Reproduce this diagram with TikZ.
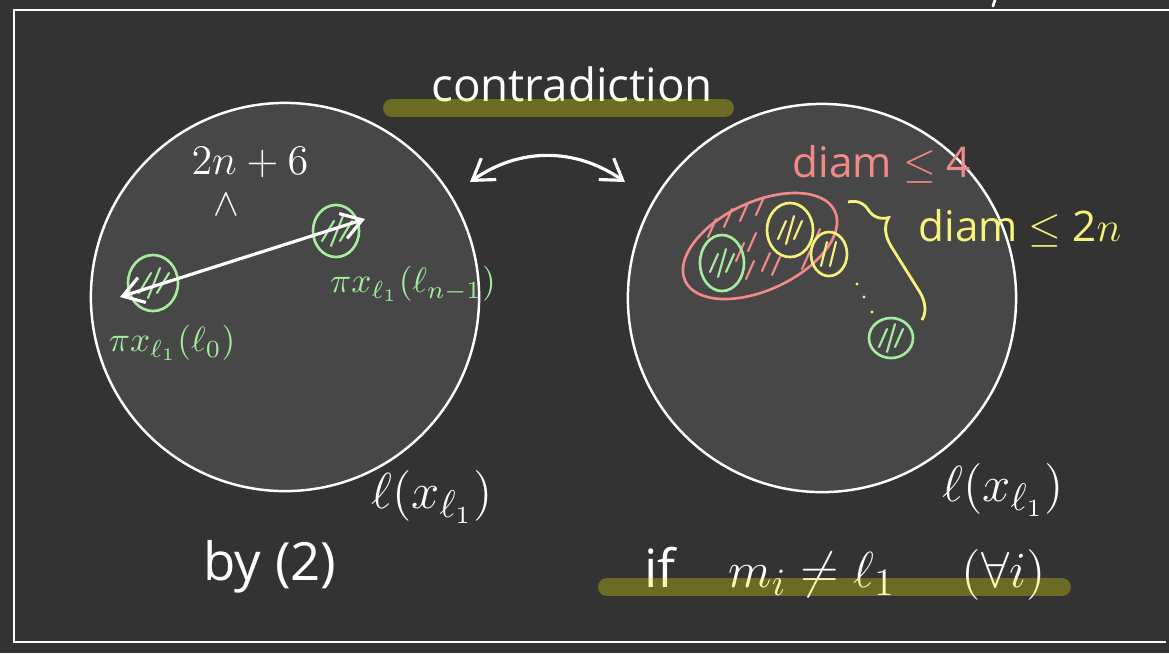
\documentclass[tikz,border=0pt]{standalone}
\usepackage{amsmath,amssymb}
\usepackage{fontspec}
\setmainfont{Open Sans}
\usepackage{xcolor}
\usepackage{tikz}
\usetikzlibrary{arrows.meta, positioning, calc, shapes.geometric, decorations.pathreplacing}

\definecolor{board}{HTML}{333333}
\definecolor{disc}{HTML}{474747}
\definecolor{chalkgreen}{HTML}{A6EBA0}
\definecolor{chalkpink}{HTML}{F28A8A}
\definecolor{chalkyellow}{HTML}{F7F27A}
\definecolor{marker}{RGB}{238,238,4}

\begin{document}
\begin{tikzpicture}[
    x=0.01cm, y=-0.01cm,
    bigdisc/.style={circle, draw=white, fill=disc, line width=0.7pt, minimum size=3.88cm, inner sep=0pt},
    blob/.style={ellipse, draw=#1, line width=0.75pt, inner sep=0pt},
    hatch/.style={draw=#1, line width=0.6pt, line cap=round},
    chalk/.style={text=white, inner sep=1pt},
    arr/.style={{Straight Barb[length=2mm, width=2.6mm]}-{Straight Barb[length=2mm, width=2.6mm]}, line width=0.9pt, white, line cap=round},
    hilite/.style={marker, opacity=0.3, line width=5.1pt, line cap=round}
]

% Board and frame
\fill[board] (0,0) rectangle (1169,653);
\useasboundingbox (0,0) rectangle (1169,653);
\draw[white, line width=0.7pt] (1169,10) -- (14,10) -- (14,642) -- (1166,642);
\draw[white, line width=0.8pt, line cap=round] (995,0) -- (993,6);

% Two discs
\node[bigdisc] (lc) at (285,297) {};
\node[bigdisc] (rc) at (822,298) {};

% Title
\node[chalk, font=\fontsize{13}{15}\selectfont] (contra) at (572,84) {contradiction};

\coordinate (swapL) at (470,182);
\coordinate (swapR) at (625,182);
\draw[arr] (swapL) to[bend left=35] (swapR);

% Left disc: the two end balls
\node[blob=chalkgreen, minimum width=0.5cm, minimum height=0.56cm] (g1) at (153,283) {};
\node[blob=chalkgreen, minimum width=0.46cm, minimum height=0.52cm] (g2) at (336,231) {};
\foreach \n in {g1,g2}
  \foreach \d/\h in {-8/10,1/15,10/10}
    \draw[hatch=chalkgreen] ($(\n)+(\d-6,\h)$) -- ($(\n)+(\d+6,-\h)$);

\coordinate (tipL) at ($(g1)+(-33,14)$);
\coordinate (tipR) at ($(g2)+(29,-12)$);
\draw[arr] (tipL) -- (tipR);

\node[chalk, font=\fontsize{12}{14}\selectfont] (len) at (250,162) {$2n+6$};
\node[chalk, font=\fontsize{11}{13}\selectfont] (ge) at (226,205) {$\wedge$};

\node[chalk, text=chalkgreen, font=\fontsize{10}{12}\selectfont] (lab0) at (172,343) {$\pi x_{\ell_1}(\ell_0)$};
\node[chalk, text=chalkgreen, font=\fontsize{10}{12}\selectfont] (labn) at (413,284) {$\pi x_{\ell_1}(\ell_{n-1})$};

% Right disc: clusters
\node[blob=chalkpink, rotate=25, minimum width=1.65cm, minimum height=0.88cm] (pk) at (760,246) {};
\foreach \p in {(712,228),(728,218),(744,212),(760,206),(752,242),(766,262),(750,270),(740,252),(806,260),(816,238),(776,266)}
  \draw[hatch=chalkpink] \p ++(-4,9) -- ++(8,-18);

\node[blob=chalkgreen, minimum width=0.44cm, minimum height=0.56cm] (g3) at (722,263) {};
\node[blob=chalkyellow, minimum width=0.46cm, minimum height=0.54cm] (y1) at (790,230) {};
\node[blob=chalkyellow, minimum width=0.36cm, minimum height=0.44cm] (y2) at (829,254) {};
\node[blob=chalkgreen, minimum width=0.44cm, minimum height=0.4cm] (g4) at (891,338) {};
\foreach \n/\c in {g3/chalkgreen, y1/chalkyellow, g4/chalkgreen}
  \foreach \d/\h in {-8/9,0/14,8/9}
    \draw[hatch=\c] ($(\n)+(\d-4,\h)$) -- ($(\n)+(\d+4,-\h)$);
\foreach \d in {-5,4}
  \draw[hatch=chalkyellow] ($(y2)+(\d-3,12)$) -- ($(y2)+(\d+3,-12)$);

\foreach \p in {(857,284),(864,297),(872,312)}
  \fill[chalkyellow] \p circle (1.6);

\coordinate (brtop) at (848,202);
\coordinate (brbot) at (922,320);
\draw[chalkyellow, line width=0.8pt, decorate, decoration={brace, amplitude=2.6mm, aspect=0.25}] (brtop) -- (brbot);

\node[chalk, text=chalkpink, font=\fontsize{12}{14}\selectfont] (d4) at (882,164) {diam $\leq$ 4};
\node[chalk, text=chalkyellow, font=\fontsize{12}{14}\selectfont] (d2n) at (1020,228) {diam $\leq$ 2$n$};

% Disc names
\node[chalk, font=\fontsize{15}{17}\selectfont] (ellL) at (432,497) {$\ell(x_{\ell_1})$};
\node[chalk, font=\fontsize{15}{17}\selectfont] (ellR) at (1003,490) {$\ell(x_{\ell_1})$};

% Bottom remarks
\node[chalk, font=\fontsize{15}{17}\selectfont] (by) at (270,567) {by (2)};
\node[chalk, font=\fontsize{15}{17}\selectfont] (cond) at (845,574) {if\quad $m_i \neq \ell_1$\quad\ $(\forall i)$};

% Highlighter strokes
\draw[hilite] (392,108) -- (725,108);
\draw[hilite] (607,587) -- (1062,587);

\end{tikzpicture}
\end{document}
